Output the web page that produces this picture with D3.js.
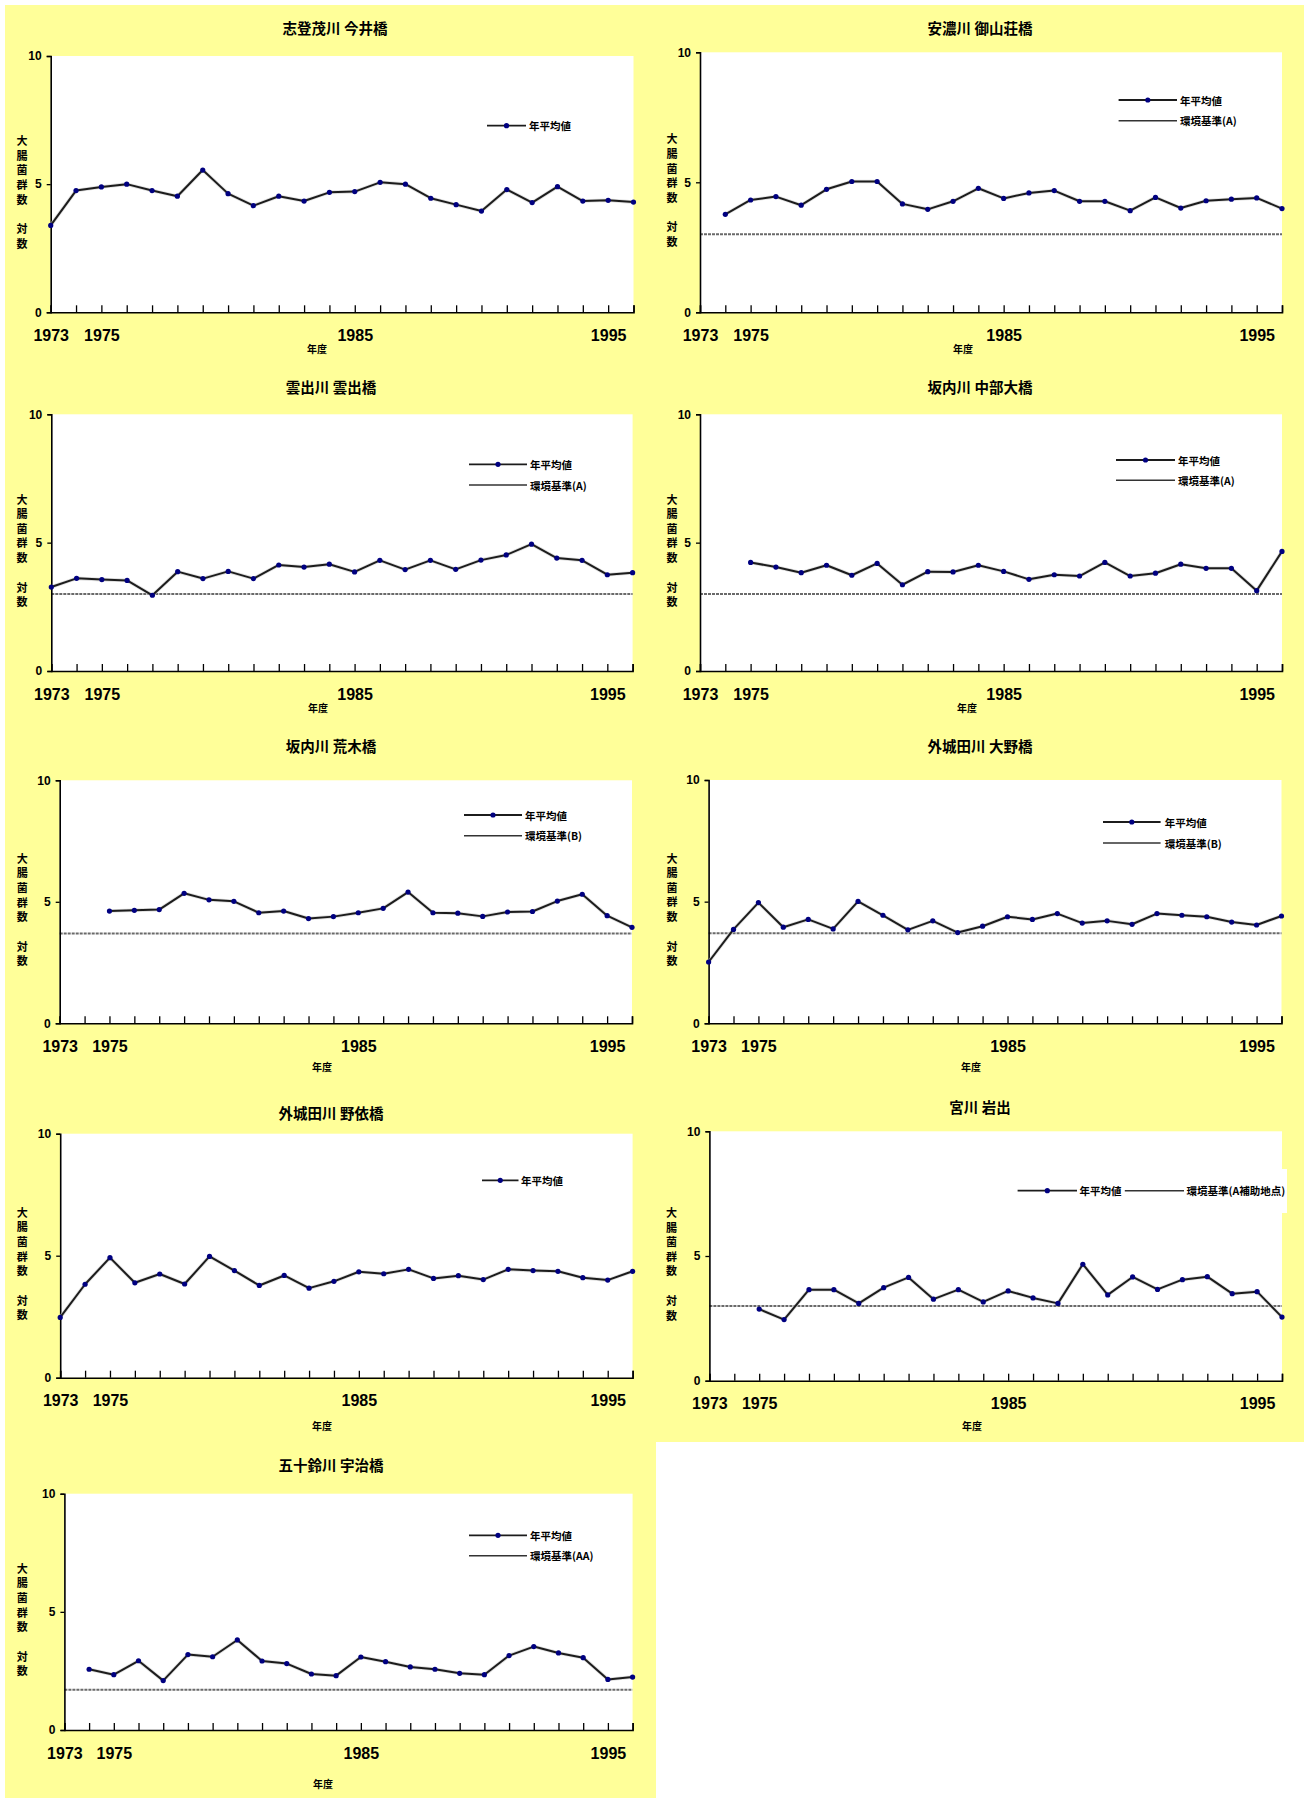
<!DOCTYPE html>
<html>
<head>
<meta charset="utf-8">
<script src="https://cdn.jsdelivr.net/npm/d3@7"></script>
<style>
  body { margin: 0; background: #fff; }
  svg { display: block; }
  .num { font-family: "Liberation Sans Narrow", "Liberation Sans", Arial, sans-serif; font-weight: bold; fill: #000; }
  .jp { font-family: "Noto Sans CJK JP", "Noto Sans", sans-serif; font-weight: bold; fill: #000; }
</style>
</head>
<body>
<svg id="chart" width="1306" height="1798"></svg>
<script>
// 年度 (fiscal years) along the x axis
const years = [1973, 1974, 1975, 1976, 1977, 1978, 1979, 1980, 1981, 1982, 1983, 1984,
               1985, 1986, 1987, 1988, 1989, 1990, 1991, 1992, 1993, 1994, 1995, 1996];
const yearLabels = [1973, 1975, 1985, 1995];
const yTicks = [0, 5, 10];

// 大腸菌群数 対数 — annual means per station
const imaibashi  = [3.39, 4.75, 4.89, 5.00, 4.75, 4.53, 5.55, 4.63, 4.16, 4.53, 4.34, 4.68,
                    4.71, 5.07, 5.00, 4.45, 4.20, 3.95, 4.79, 4.28, 4.90, 4.34, 4.37, 4.30];
const goyamaso   = [null, 3.77, 4.32, 4.45, 4.12, 4.73, 5.03, 5.03, 4.17, 3.96, 4.27, 4.77,
                    4.38, 4.59, 4.68, 4.27, 4.27, 3.91, 4.42, 4.01, 4.29, 4.35, 4.40, 3.99];
const kumozubashi = [3.27, 3.61, 3.56, 3.53, 2.95, 3.87, 3.60, 3.88, 3.60, 4.13, 4.05, 4.16,
                    3.86, 4.31, 3.95, 4.31, 3.96, 4.32, 4.52, 4.94, 4.40, 4.31, 3.75, 3.83];
const chubuOhashi = [null, null, 4.23, 4.05, 3.83, 4.12, 3.73, 4.19, 3.36, 3.87, 3.86, 4.12,
                    3.88, 3.57, 3.75, 3.70, 4.23, 3.70, 3.81, 4.16, 4.00, 4.00, 3.13, 4.66];
const arakibashi = [null, null, 4.62, 4.65, 4.68, 5.35, 5.08, 5.02, 4.55, 4.62, 4.31, 4.39,
                    4.55, 4.73, 5.40, 4.55, 4.53, 4.40, 4.58, 4.60, 5.03, 5.31, 4.43, 3.95];
const onobashi   = [2.52, 3.86, 4.96, 3.95, 4.27, 3.88, 5.01, 4.44, 3.84, 4.21, 3.73, 3.99,
                    4.38, 4.27, 4.51, 4.12, 4.21, 4.07, 4.51, 4.44, 4.38, 4.16, 4.04, 4.41];
const noebashi   = [2.47, 3.83, 4.92, 3.89, 4.25, 3.84, 4.97, 4.39, 3.78, 4.19, 3.67, 3.95,
                    4.34, 4.26, 4.44, 4.07, 4.18, 4.02, 4.44, 4.39, 4.36, 4.10, 4.00, 4.36];
const iwade      = [null, null, 2.87, 2.45, 3.65, 3.65, 3.10, 3.73, 4.14, 3.27, 3.65, 3.16,
                    3.60, 3.32, 3.10, 4.67, 3.44, 4.16, 3.66, 4.05, 4.17, 3.49, 3.57, 2.55];
const ujibashi   = [null, 2.57, 2.34, 2.93, 2.09, 3.19, 3.10, 3.81, 2.92, 2.81, 2.37, 2.30,
                    3.09, 2.89, 2.67, 2.57, 2.40, 2.34, 3.15, 3.53, 3.26, 3.06, 2.14, 2.24];

const titles = ["志登茂川 今井橋", "安濃川 御山荘橋", "雲出川 雲出橋", "坂内川 中部大橋",
                "坂内川 荒木橋", "外城田川 大野橋", "外城田川 野依橋", "宮川 岩出", "五十鈴川 宇治橋"];
const seriesList = [imaibashi, goyamaso, kumozubashi, chubuOhashi, arakibashi,
                    onobashi, noebashi, iwade, ujibashi];
// 環境基準 (log10 of the coliform standard); null where no standard is drawn
const standardValues = [null, 3.0, 3.0, 3.0, 3.7, 3.7, null, 3.0, 1.7];
const standardNames = [null, "環境基準(A)", "環境基準(A)", "環境基準(A)", "環境基準(B)",
                       "環境基準(B)", null, "環境基準(A補助地点)", "環境基準(AA)"];
const seriesName = "年平均値";
const xTitle = "年度";
const yTitleTop = ["大", "腸", "菌", "群", "数"];
const yTitleBottom = ["対", "数"];

// panel geometry
const layout = [
  { l: 50.7,  r: 633.5,  t: 56,     b: 312.3,  tx: 335, ty: 27,     lx: 317, ly: 348,    ax: 22,
    leg: { x1: 487, x2: 526, y: 125.7, tx: 529 } },
  { l: 700,   r: 1282,   t: 52.3,   b: 312.3,  tx: 980, ty: 27,     lx: 963, ly: 348,    ax: 672,
    leg: { x1: 1118.6, x2: 1177, y: 100, y2: 120.7, tx: 1180 } },
  { l: 51.3,  r: 632.6,  t: 414.3,  b: 671,    tx: 331, ty: 386.7,  lx: 318, ly: 707.7,  ax: 22,
    leg: { x1: 469, x2: 527, y: 464.3, y2: 485, tx: 530 } },
  { l: 700,   r: 1282,   t: 414.3,  b: 671,    tx: 980, ty: 386.7,  lx: 967, ly: 707.7,  ax: 672,
    leg: { x1: 1116, x2: 1175, y: 460, y2: 480.3, tx: 1178 } },
  { l: 59.7,  r: 632,    t: 780.3,  b: 1023.3, tx: 331, ty: 745,    lx: 322, ly: 1066.7, ax: 22.3,
    leg: { x1: 464, x2: 522, y: 815, y2: 835.7, tx: 525 } },
  { l: 708.6, r: 1281.5, t: 780,    b: 1023.3, tx: 980, ty: 745,    lx: 971, ly: 1066.7, ax: 672,
    leg: { x1: 1103, x2: 1160.6, y: 822, y2: 843, tx: 1164.7 } },
  { l: 60.2,  r: 632.6,  t: 1133.7, b: 1377.7, tx: 331, ty: 1112.3, lx: 322, ly: 1425,   ax: 22.3,
    leg: { x1: 482, x2: 518.5, y: 1180.3, tx: 521 } },
  { l: 709.4, r: 1282,   t: 1131.3, b: 1380.7, tx: 980, ty: 1106.7, lx: 972, ly: 1425,   ax: 671.5,
    leg: { row: true, x1: 1017.6, x2: 1077, tx: 1079.5, sx1: 1124.8, sx2: 1184, stx: 1186.6, y: 1190.7,
           box: [1010, 1169, 277, 44] } },
  { l: 64.4,  r: 632.6,  t: 1493.7, b: 1730,   tx: 331, ty: 1464,   lx: 323, ly: 1783.3, ax: 22.3,
    leg: { x1: 469, x2: 527, y: 1535.3, y2: 1555.7, tx: 530 } }
];

const svg = d3.select("#chart");
const YELLOW = "#FFFF99";

// chart backgrounds
svg.append("rect").attr("x", 5).attr("y", 5).attr("width", 1299).attr("height", 1437).attr("fill", YELLOW);
svg.append("rect").attr("x", 5).attr("y", 1442).attr("width", 651).attr("height", 356).attr("fill", YELLOW);

layout.forEach((p, i) => {
  const g = svg.append("g");
  const x = d3.scaleLinear().domain([years[0], years[years.length - 1]]).range([p.l, p.r]);
  const y = d3.scaleLinear().domain([0, 10]).range([p.b, p.t]);

  // plot area
  g.append("rect").attr("x", p.l).attr("y", p.t).attr("width", p.r - p.l).attr("height", p.b - p.t)
    .attr("fill", "#fff");

  // title
  g.append("text").attr("class", "jp").attr("x", p.tx).attr("y", p.ty)
    .attr("text-anchor", "middle").attr("dominant-baseline", "central")
    .style("font-size", "14.5px").text(titles[i]);

  // standard line
  if (standardValues[i] != null) {
    g.append("line").attr("x1", p.l).attr("x2", p.r)
      .attr("y1", y(standardValues[i])).attr("y2", y(standardValues[i]))
      .attr("stroke", "#6a6a6a").attr("stroke-width", 2).attr("stroke-dasharray", "3 1");
  }

  // x axis: upward ticks at every year, labels at selected years
  const xAxis = d3.axisBottom(x).tickValues(years).tickSize(-7).tickPadding(17)
    .tickFormat(d => yearLabels.includes(d) ? String(d) : "");
  const xg = g.append("g").attr("transform", `translate(0,${p.b})`).call(xAxis);
  xg.select(".domain").attr("stroke", "#000").attr("stroke-width", 1.6);
  xg.selectAll(".tick line").attr("stroke", "#000").attr("stroke-width", 1.3);
  xg.selectAll(".tick text").attr("class", "num").attr("fill", "#000")
    .style("font-size", "16px").attr("dy", null).attr("dominant-baseline", "central").attr("y", 23);

  // y axis
  const yAxis = d3.axisLeft(y).tickValues(yTicks).tickSize(4).tickPadding(5).tickFormat(d3.format("d"));
  const yg = g.append("g").attr("transform", `translate(${p.l},0)`).call(yAxis);
  yg.select(".domain").attr("stroke", "#000").attr("stroke-width", 1.6);
  yg.selectAll(".tick line").attr("stroke", "#000").attr("stroke-width", 1.3);
  yg.selectAll(".tick text").attr("class", "num").attr("fill", "#000").style("font-size", "12px");

  // axis titles
  g.append("text").attr("class", "jp").attr("x", p.lx).attr("y", p.ly)
    .attr("text-anchor", "middle").attr("dominant-baseline", "central")
    .style("font-size", "10px").text(xTitle);
  const y5 = y(5);
  yTitleTop.forEach((c, k) => {
    g.append("text").attr("class", "jp").attr("x", p.ax).attr("y", y5 - 44 + k * 14.6)
      .attr("text-anchor", "middle").attr("dominant-baseline", "central")
      .style("font-size", "11px").text(c);
  });
  yTitleBottom.forEach((c, k) => {
    g.append("text").attr("class", "jp").attr("x", p.ax).attr("y", y5 + 44 + k * 14.6)
      .attr("text-anchor", "middle").attr("dominant-baseline", "central")
      .style("font-size", "11px").text(c);
  });

  // annual-mean series
  const pts = years.map((yr, k) => ({ yr, v: seriesList[i][k] })).filter(d => d.v != null);
  const line = d3.line().x(d => x(d.yr)).y(d => y(d.v));
  g.append("path").datum(pts).attr("d", line).attr("fill", "none")
    .attr("stroke", "#c8c8c8").attr("stroke-width", 3.6).attr("stroke-linejoin", "round").attr("opacity", 0.6);
  g.append("path").datum(pts).attr("d", line).attr("fill", "none")
    .attr("stroke", "#1c1c1c").attr("stroke-width", 2).attr("stroke-linejoin", "round");
  g.selectAll("circle.pt").data(pts).join("circle").attr("class", "pt")
    .attr("cx", d => x(d.yr)).attr("cy", d => y(d.v)).attr("r", 2.6).attr("fill", "#000080");

  // legend
  const L = p.leg;
  const lg = g.append("g");
  if (L.row) {
    lg.append("rect").attr("x", L.box[0]).attr("y", L.box[1]).attr("width", L.box[2]).attr("height", L.box[3])
      .attr("fill", "#fff");
    lg.append("line").attr("x1", L.x1).attr("x2", L.x2).attr("y1", L.y).attr("y2", L.y)
      .attr("stroke", "#1c1c1c").attr("stroke-width", 1.8);
    lg.append("circle").attr("cx", (L.x1 + L.x2) / 2).attr("cy", L.y).attr("r", 2.6).attr("fill", "#000080");
    lg.append("text").attr("class", "jp").attr("x", L.tx).attr("y", L.y).attr("dominant-baseline", "central")
      .style("font-size", "10.5px").text(seriesName);
    lg.append("line").attr("x1", L.sx1).attr("x2", L.sx2).attr("y1", L.y).attr("y2", L.y)
      .attr("stroke", "#333").attr("stroke-width", 1.4);
    lg.append("text").attr("class", "jp").attr("x", L.stx).attr("y", L.y).attr("dominant-baseline", "central")
      .style("font-size", "10.5px").text(standardNames[i]);
  } else {
    lg.append("line").attr("x1", L.x1).attr("x2", L.x2).attr("y1", L.y).attr("y2", L.y)
      .attr("stroke", "#1c1c1c").attr("stroke-width", 1.8);
    lg.append("circle").attr("cx", (L.x1 + L.x2) / 2).attr("cy", L.y).attr("r", 2.6).attr("fill", "#000080");
    lg.append("text").attr("class", "jp").attr("x", L.tx).attr("y", L.y).attr("dominant-baseline", "central")
      .style("font-size", "10.5px").text(seriesName);
    if (standardNames[i]) {
      lg.append("line").attr("x1", L.x1).attr("x2", L.x2).attr("y1", L.y2).attr("y2", L.y2)
        .attr("stroke", "#333").attr("stroke-width", 1.4);
      lg.append("text").attr("class", "jp").attr("x", L.tx).attr("y", L.y2).attr("dominant-baseline", "central")
        .style("font-size", "10.5px").text(standardNames[i]);
    }
  }
});
</script>
</body>
</html>
